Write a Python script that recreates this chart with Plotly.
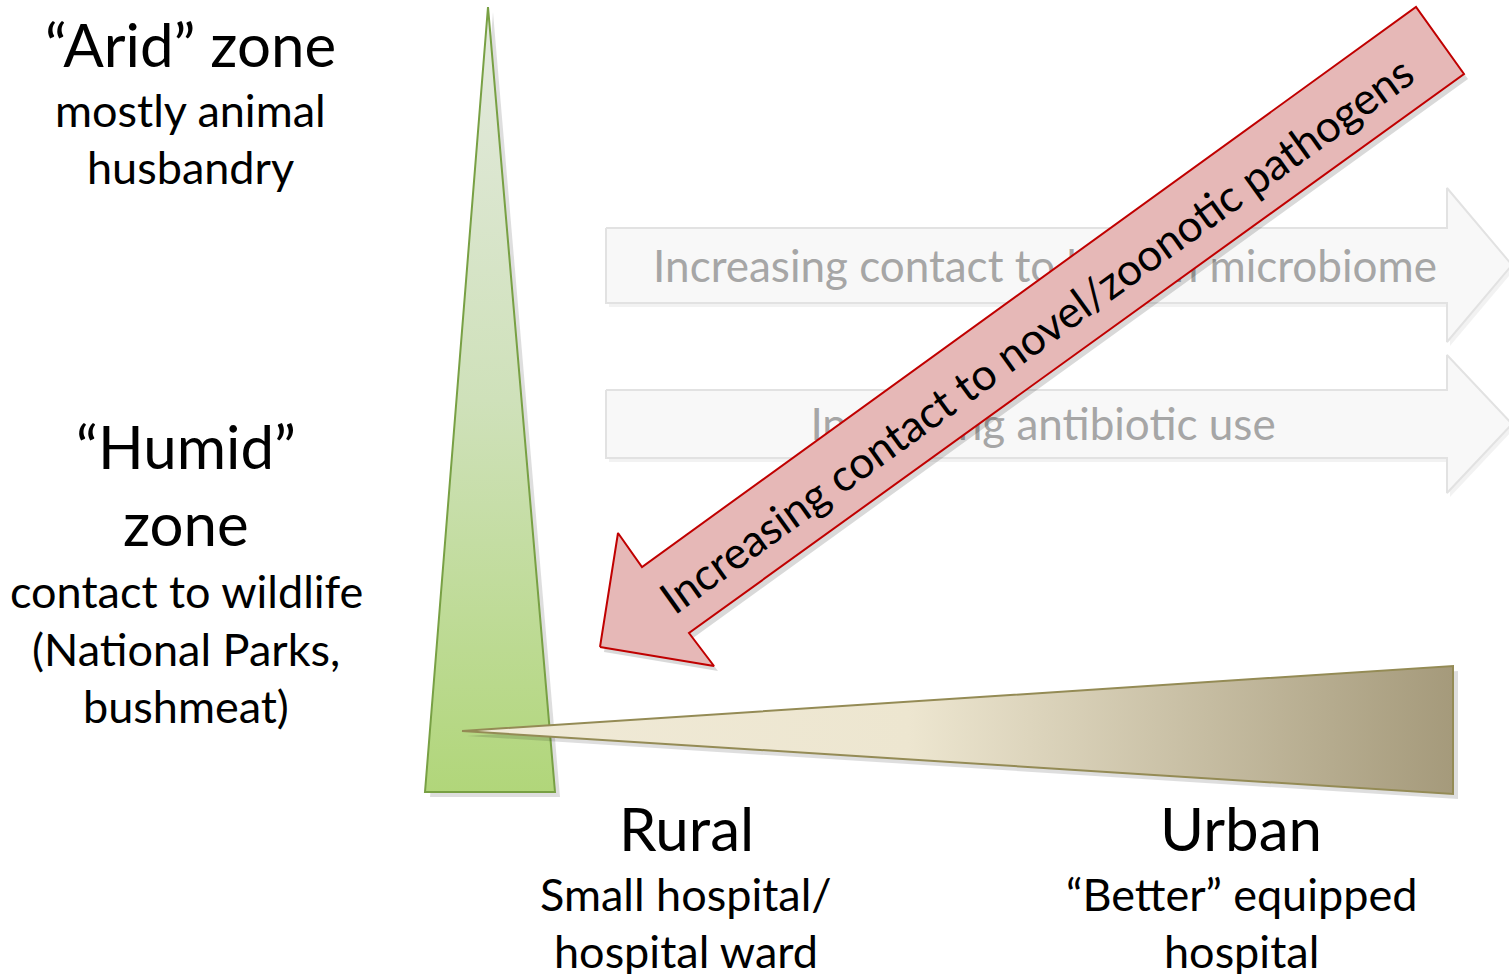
import plotly.graph_objects as go

# ---- diagram geometry (pixel space, y downward) ----
green_x = [488, 555, 425]
green_y = [7, 792, 792]
tan_x = [462, 1453, 1453]
tan_y = [731, 666, 794]
arrow1_x = [606, 1447, 1447, 1512, 1447, 1447, 606]
arrow1_y = [228, 228, 188, 265, 342, 303, 303]
arrow2_x = [606, 1447, 1447, 1512, 1447, 1447, 606]
arrow2_y = [390, 390, 355, 424, 493, 458, 458]
red_x = [600, 618, 642, 1416, 1464, 689, 714]
red_y = [647, 533, 567, 7, 74, 633, 666]

arrow_texts = ["Increasing contact to human microbiome", "Increasing antibiotic use"]
arrow_text_pos = [(1045, 271), (1043, 429)]
red_text = "Increasing contact to novel/zoonotic pathogens"
red_text_pos = (1036, 334)
red_angle = -35.8

labels = [
    ("“Arid” zone", 190, 44, 60),
    ("mostly animal", 190, 110, 45),
    ("husbandry", 190, 167, 45),
    ("“Humid”", 186, 446, 60),
    ("zone", 186, 523, 60),
    ("contact to wildlife", 186, 591, 45),
    ("(National Parks,", 186, 649, 45),
    ("bushmeat)", 186, 706, 45),
    ("Rural", 686, 828, 60),
    ("Small hospital/", 686, 894, 45),
    ("hospital ward", 686, 951, 45),
    ("Urban", 1241, 828, 60),
    ("“Better” equipped", 1241, 894, 45),
    ("hospital", 1241, 951, 45),
]

FONT = "Lato"
fig = go.Figure()


def closed(a):
    return list(a) + [a[0]]


def shadow(xs, ys, dx=4, dy=4, op=0.13):
    fig.add_trace(go.Scatter(x=[v + dx for v in closed(xs)], y=[v + dy for v in closed(ys)],
                             mode="lines", fill="toself", fillcolor=f"rgba(0,0,0,{op})",
                             line=dict(width=0), hoverinfo="skip", showlegend=False))


# faint arrows
for ax, ay, txt, (tx, ty) in zip([arrow1_x, arrow2_x], [arrow1_y, arrow2_y], arrow_texts, arrow_text_pos):
    shadow(ax, ay, 3, 4, 0.05)
    fig.add_trace(go.Scatter(x=closed(ax), y=closed(ay), mode="lines", fill="toself",
                             fillcolor="#f8f8f8", line=dict(color="#e2e2e2", width=2),
                             hoverinfo="skip", showlegend=False))
    fig.add_trace(go.Scatter(x=[tx], y=[ty], mode="text", text=[txt],
                             textfont=dict(family=FONT, size=44, color="#a6a6a6"),
                             hoverinfo="skip", showlegend=False))

# red arrow
shadow(red_x, red_y, 4, 5, 0.15)
fig.add_trace(go.Scatter(x=closed(red_x), y=closed(red_y), mode="lines", fill="toself",
                         fillcolor="#e6b8b7", line=dict(color="#c00000", width=2),
                         hoverinfo="skip", showlegend=False))

# green triangle
shadow(green_x, green_y, 5, 5, 0.13)
fig.add_trace(go.Scatter(x=closed(green_x), y=closed(green_y), mode="lines", fill="toself",
                         fillgradient=dict(type="vertical", start=7, stop=792,
                                           colorscale=[[0, "#e4eadf"], [0.5, "#cfe1ba"], [1, "#b1d67a"]]),
                         line=dict(color="#78a044", width=2),
                         hoverinfo="skip", showlegend=False))

# tan triangle
shadow(tan_x, tan_y, 5, 5, 0.13)
fig.add_trace(go.Scatter(x=closed(tan_x), y=closed(tan_y), mode="lines", fill="toself",
                         fillgradient=dict(type="horizontal", start=462, stop=1453,
                                           colorscale=[[0, "#f0ead7"], [0.45, "#ede6d0"], [1, "#a59a7b"]]),
                         line=dict(color="#948b55", width=2),
                         hoverinfo="skip", showlegend=False))

annotations = []
for txt, x, y, s in labels:
    annotations.append(dict(x=x, y=y, text=txt, showarrow=False, xref="x", yref="y",
                            font=dict(family=FONT, size=s, color="black"),
                            xanchor="center", yanchor="middle"))
annotations.append(dict(x=red_text_pos[0], y=red_text_pos[1], text=red_text, showarrow=False,
                        xref="x", yref="y", textangle=red_angle,
                        font=dict(family=FONT, size=44, color="black"),
                        xanchor="center", yanchor="middle"))

fig.update_layout(
    width=1509, height=974, margin=dict(l=0, r=0, t=0, b=0),
    paper_bgcolor="white", plot_bgcolor="white",
    xaxis=dict(range=[0, 1509], visible=False, fixedrange=True),
    yaxis=dict(range=[974, 0], visible=False, fixedrange=True),
    annotations=annotations, showlegend=False,
)
fig.write_html("out.html", config={"displayModeBar": False},
               post_script="document.body.style.margin='0';document.body.style.overflow='hidden';")
